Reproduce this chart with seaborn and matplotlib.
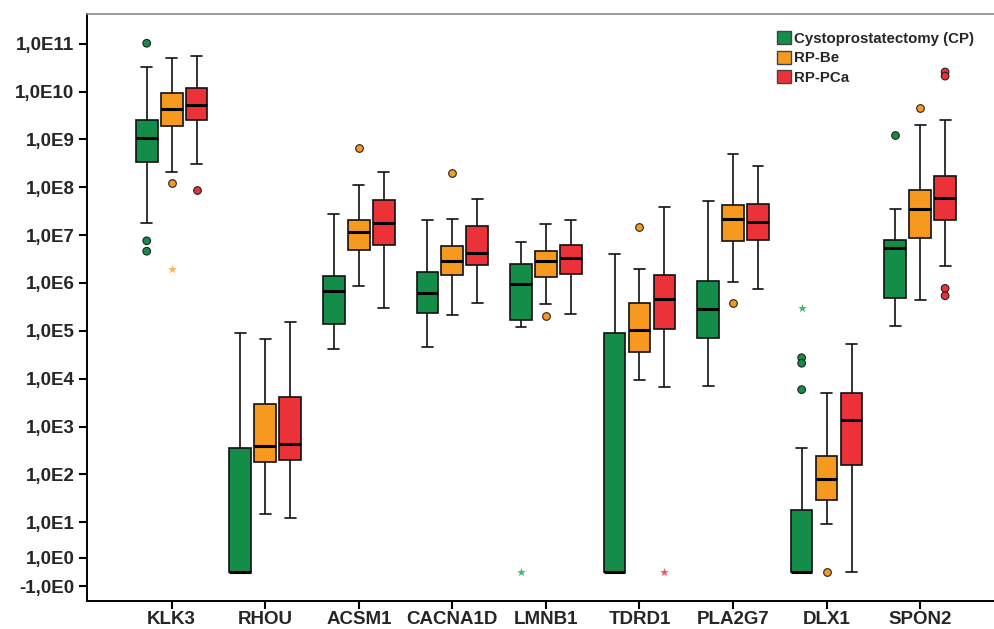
import numpy as np
import pandas as pd
import matplotlib
matplotlib.use("Agg")
import matplotlib.pyplot as plt
from matplotlib.patches import Patch
import seaborn as sns

# Gene order on the x axis and the three sample groups
genes = ["KLK3", "RHOU", "ACSM1", "CACNA1D", "LMNB1", "TDRD1", "PLA2G7", "DLX1", "SPON2"]
groups = ["Cystoprostatectomy (CP)", "RP-Be", "RP-PCa"]
colors = ["#138d48", "#f5991f", "#ec3239"]
star_colors = ["#3fb56f", "#f9b04a", "#f0555b"]

# Five-number summaries per gene: (lower whisker, Q1, median, Q3, upper whisker)
cp_stats = [
    (1.79e7, 3.37e8, 1.07e9, 2.5e9, 3.2e10),
    (0, 0, 0, 350, 8.9e4),
    (4.2e4, 1.37e5, 6.7e5, 1.42e6, 2.8e7),
    (4.6e4, 2.4e5, 6.1e5, 1.7e6, 2.04e7),
    (1.22e5, 1.66e5, 9.6e5, 2.45e6, 7.3e6),
    (0, 0, 0, 8.9e4, 4.0e6),
    (7.0e3, 7.1e4, 2.9e5, 1.11e6, 5.1e7),
    (0, 0, 0, 18.2, 361),
    (1.24e5, 4.8e5, 5.4e6, 7.8e6, 3.5e7),
]
be_stats = [
    (2.1e8, 1.9e9, 4.4e9, 9.2e9, 5.1e10),
    (14.8, 179, 391, 2.9e3, 6.6e4),
    (8.6e5, 4.95e6, 1.16e7, 2.04e7, 1.1e8),
    (2.1e5, 1.5e6, 2.9e6, 6.0e6, 2.2e7),
    (3.6e5, 1.33e6, 2.9e6, 4.6e6, 1.73e7),
    (9.5e3, 3.6e4, 1.04e5, 3.8e5, 1.96e6),
    (1.05e6, 7.6e6, 2.2e7, 4.3e7, 5.0e8),
    (8.8, 28.7, 80, 245, 5.1e3),
    (4.5e5, 8.8e6, 3.5e7, 8.9e7, 1.97e9),
]
pca_stats = [
    (3.1e8, 2.54e9, 5.2e9, 1.2e10, 5.5e10),
    (12.2, 197, 431, 4.1e3, 1.55e5),
    (3.04e5, 6.1e6, 1.79e7, 5.4e7, 2.1e8),
    (3.8e5, 2.4e6, 4.2e6, 1.53e7, 5.7e7),
    (2.2e5, 1.56e6, 3.4e6, 6.1e6, 2.1e7),
    (6.6e3, 1.09e5, 4.6e5, 1.5e6, 3.9e7),
    (7.4e5, 7.8e6, 1.9e7, 4.4e7, 2.8e8),
    (0, 157, 1.39e3, 5.1e3, 5.2e4),
    (2.3e6, 2.07e7, 5.9e7, 1.7e8, 2.5e9),
]

# Outliers (circles) and extreme values (stars)
outlier_gene = ["KLK3", "KLK3", "KLK3", "KLK3", "KLK3",
                "ACSM1", "CACNA1D", "LMNB1", "TDRD1", "PLA2G7",
                "DLX1", "DLX1", "DLX1", "DLX1",
                "SPON2", "SPON2", "SPON2", "SPON2", "SPON2", "SPON2"]
outlier_group = ["Cystoprostatectomy (CP)", "Cystoprostatectomy (CP)", "Cystoprostatectomy (CP)", "RP-Be", "RP-PCa",
                 "RP-Be", "RP-Be", "RP-Be", "RP-Be", "RP-Be",
                 "Cystoprostatectomy (CP)", "Cystoprostatectomy (CP)", "Cystoprostatectomy (CP)", "RP-Be",
                 "Cystoprostatectomy (CP)", "RP-Be", "RP-PCa", "RP-PCa", "RP-PCa", "RP-PCa"]
outlier_value = [1.02e11, 7.6e6, 4.6e6, 1.23e8, 8.6e7,
                 6.5e8, 1.99e8, 2.0e5, 1.46e7, 3.8e5,
                 2.74e4, 2.1e4, 5.9e3, 0,
                 1.22e9, 4.6e9, 2.56e10, 2.1e10, 7.7e5, 5.4e5]

extreme_gene = ["KLK3", "LMNB1", "TDRD1", "DLX1"]
extreme_group = ["RP-Be", "Cystoprostatectomy (CP)", "RP-PCa", "Cystoprostatectomy (CP)"]
extreme_value = [1.96e6, 0, 0, 3.0e5]

# y tick values and their labels
ytick_values = [1e11, 1e10, 1e9, 1e8, 1e7, 1e6, 1e5, 1e4, 1e3, 1e2, 1e1, 1, -1]
ytick_labels = ["1,0E11", "1,0E10", "1,0E9", "1,0E8", "1,0E7", "1,0E6", "1,0E5",
                "1,0E4", "1,0E3", "1,0E2", "1,0E1", "1,0E0", "-1,0E0"]


# Axis that is logarithmic above 10 and linear around zero
def fwd(v):
    v = np.asarray(v, dtype=float)
    hi = np.log10(np.clip(v, 10, None))
    mid = 0.26 + 0.74 * np.log10(np.clip(v, 1, 10))
    lo = -0.04 + 0.30 * v
    return np.where(v >= 10, hi, np.where(v >= 1, mid, lo))


def inv(t):
    t = np.asarray(t, dtype=float)
    hi = 10 ** np.clip(t, 1, 300)
    mid = 10 ** ((np.clip(t, 0.26, 1) - 0.26) / 0.74)
    lo = (t + 0.04) / 0.30
    return np.where(t >= 1, hi, np.where(t >= 0.26, mid, lo))


# Long-form table: the five summary values of each box
rows = []
for grp, stats in zip(groups, [cp_stats, be_stats, pca_stats]):
    for gene, s in zip(genes, stats):
        for v in s:
            rows.append({"gene": gene, "group": grp, "value": v})
box_df = pd.DataFrame(rows)
out_df = pd.DataFrame({"gene": outlier_gene, "group": outlier_group, "value": outlier_value})
ext_df = pd.DataFrame({"gene": extreme_gene, "group": extreme_group, "value": extreme_value})

sns.set_style("white")
plt.rcParams["font.family"] = ["Liberation Sans", "DejaVu Sans"]

fig = plt.figure(figsize=(9.95, 6.29), dpi=100)
ax = fig.add_axes([87 / 995, 1 - 601 / 629, 1 - 87 / 995, (601 - 14) / 629])
ax.set_yscale("function", functions=(fwd, inv))

sns.boxplot(data=box_df, x="gene", y="value", hue="group", order=genes, hue_order=groups,
            palette=colors, saturation=1, width=0.8, gap=0.13, whis=(0, 100),
            showfliers=False, linecolor="#111111", linewidth=1.2,
            medianprops={"color": "black", "linewidth": 2.2},
            legend=False, ax=ax)

sns.stripplot(data=out_df, x="gene", y="value", hue="group", order=genes, hue_order=groups,
              palette=colors, dodge=True, jitter=False, size=5.5, linewidth=0.8,
              edgecolor="#222222", legend=False, ax=ax)

sns.stripplot(data=ext_df, x="gene", y="value", hue="group", order=genes, hue_order=groups,
              palette=star_colors, dodge=True, jitter=False, marker="*", size=6.5,
              linewidth=0, legend=False, ax=ax)

ax.set_xlim(-0.905, 8.80)
ax.set_ylim(-2.02, 10 ** 11.62)
ax.set_yticks(ytick_values)
ax.set_yticklabels(ytick_labels)
ax.yaxis.set_minor_locator(matplotlib.ticker.NullLocator())
ax.set_xlabel("")
ax.set_ylabel("")

ax.tick_params(axis="both", which="major", direction="out", length=6, width=1.5,
               color="black", labelsize=13.5, left=True, bottom=True)
ax.tick_params(axis="x", pad=1)
ax.tick_params(axis="y", pad=3)
for lab in ax.get_xticklabels() + ax.get_yticklabels():
    lab.set_fontweight("bold")

ax.spines["right"].set_visible(False)
ax.spines["top"].set_color("#8a8a8a")
ax.spines["top"].set_linewidth(1.2)
for side in ("left", "bottom"):
    ax.spines[side].set_color("black")
    ax.spines[side].set_linewidth(1.4)

handles = [Patch(facecolor=c, edgecolor="#444444", linewidth=1.0) for c in colors]
fig.legend(handles, groups, loc="upper left", bbox_to_anchor=(777 / 995, 1 - 31 / 629),
           frameon=False, prop={"weight": "bold", "size": 10.8},
           handlelength=0.95, handleheight=0.95, handletextpad=0.2,
           labelspacing=0.33, borderpad=0, borderaxespad=0)

fig.savefig("out.png", dpi=100)
